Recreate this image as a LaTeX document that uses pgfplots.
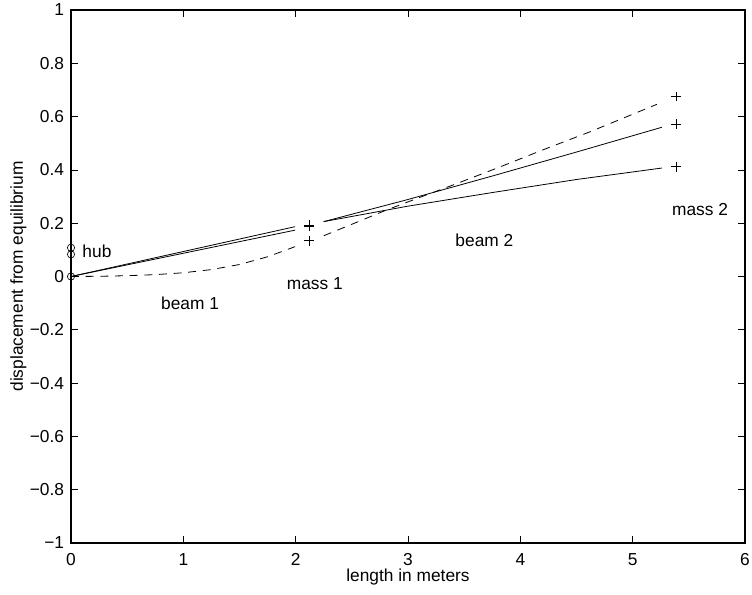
\documentclass[border=0pt]{standalone}
\usepackage{fontspec}
\setmainfont{Liberation Sans}
\usepackage{pgfplots}
\pgfplotsset{compat=1.18}
\begin{document}
\fontsize{13}{15}\selectfont
\begin{tikzpicture}
\useasboundingbox (-53.25pt,-38.25pt) rectangle (510.75pt,407.25pt);
\begin{axis}[
  at={(0,0)}, anchor=south west,
  scale only axis, width=505.5pt, height=399.75pt,
  xmin=0, xmax=6, ymin=-1, ymax=1,
  xtick={0,1,2,3,4,5,6},
  ytick={-1,-0.8,-0.6,-0.4,-0.2,0,0.2,0.4,0.6,0.8,1},
  yticklabels={−1,−0.8,−0.6,−0.4,−0.2,0,0.2,0.4,0.6,0.8,1},
  xticklabels={0,1,2,3,4,5,6},
  tick align=inside, major tick length=5pt,
  tick style={black, line width=0.5pt},
  axis line style={line width=0.9pt},
  every tick label/.append style={font=\fontsize{13}{15}\selectfont},
  xticklabel style={anchor=base, inner sep=0pt, yshift=-16.5pt},
  yticklabel style={anchor=east, inner sep=0pt, xshift=-5pt},
  xlabel={length in meters}, ylabel={displacement from equilibrium},
  xlabel style={at={(axis description cs:0.5,0)}, anchor=center, yshift=-25.5pt},
  ylabel style={at={(axis description cs:0,0.5)}, anchor=center, rotate=0, yshift=39.5pt},
  label style={font=\fontsize{13}{15}\selectfont},
  clip=false,
]
% hub
\addplot[only marks, mark=o, mark size=2.7pt, line width=0.5pt] coordinates {(0,0) (0,0.083) (0,0.108)};
% beam 1
\addplot[black, line width=0.6pt] coordinates {(0,0) (1.995,0.187)};
\addplot[black, line width=0.6pt] coordinates {(0,0) (1.995,0.174)};
\addplot[black, line width=0.6pt, dash pattern=on 6pt off 5pt] coordinates {(0,0) (0.25,0.0008) (0.5,0.003) (0.75,0.007) (1.0,0.014) (1.25,0.026) (1.5,0.045) (1.75,0.074) (1.995,0.112)};
% mass 1
\addplot[only marks, mark=+, mark size=3.6pt, line width=0.5pt] coordinates {(2.12,0.193) (2.12,0.187) (2.12,0.134)};
% beam 2
\addplot[black, line width=0.6pt] coordinates {(2.25,0.206) (3.0,0.289) (3.75,0.377) (4.5,0.467) (5.26,0.560)};
\addplot[black, line width=0.6pt] coordinates {(2.25,0.206) (3.0,0.264) (3.75,0.315) (4.5,0.364) (5.26,0.407)};
\addplot[black, line width=0.6pt, dash pattern=on 6pt off 5pt] coordinates {(2.25,0.153) (2.5,0.196) (2.8,0.248) (3.1,0.296) (3.38,0.340) (3.8,0.408) (4.2,0.475) (4.62,0.543) (5.215,0.646)};
% mass 2
\addplot[only marks, mark=+, mark size=3.6pt, line width=0.5pt] coordinates {(5.385,0.675) (5.385,0.572) (5.385,0.412)};
% labels
\node[anchor=west, inner sep=0pt] at (axis cs:0.1,0.096) {hub};
\node[inner sep=0pt] at (axis cs:1.06,-0.10) {beam 1};
\node[inner sep=0pt] at (axis cs:2.17,-0.028) {mass 1};
\node[inner sep=0pt] at (axis cs:3.68,0.137) {beam 2};
\node[inner sep=0pt] at (axis cs:5.60,0.25) {mass 2};
\end{axis}
\end{tikzpicture}
\end{document}
